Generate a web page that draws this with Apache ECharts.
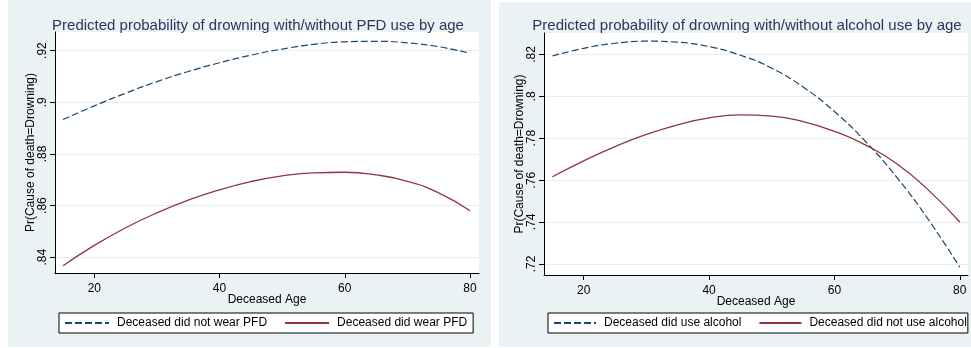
<!DOCTYPE html>
<html>
<head>
<meta charset="utf-8">
<script src="https://cdn.jsdelivr.net/npm/echarts@6/dist/echarts.min.js"></script>
<style>
    body {
        margin: 0;
        background: #fff;
    }
    .panel {
        position: absolute;
    }
</style>
</head>
<body>
<div class="panel" id="pfd_chart" style="left:8px;top:0;width:483px;height:347px"></div>
<div class="panel" id="alc_chart" style="left:499px;top:2px;width:472px;height:345px"></div>
<script>
const ages = [15, 20, 25, 30, 35, 40, 45, 50, 55, 60, 65, 70, 75, 80]
const xTicks = [20, 40, 60, 80]

// left panel: PFD
const pfdNotWorn = [0.8933, 0.8986, 0.9035, 0.9080, 0.9119, 0.9153, 0.9182, 0.9206, 0.9224, 0.9234, 0.9236, 0.9230, 0.9215, 0.9190]
const pfdWorn = [0.8367, 0.8446, 0.8514, 0.8572, 0.8621, 0.8661, 0.8693, 0.8715, 0.8727, 0.8729, 0.8719, 0.8694, 0.8649, 0.8580]
const pfdYTicks = [0.84, 0.86, 0.88, 0.90, 0.92]

// right panel: alcohol
const alcUsed = [0.8192, 0.8229, 0.8253, 0.8263, 0.8258, 0.8237, 0.8196, 0.8134, 0.8044, 0.7927, 0.7783, 0.7611, 0.7411, 0.7184]
const alcNotUsed = [0.7616, 0.7692, 0.7760, 0.7818, 0.7864, 0.7897, 0.7911, 0.7905, 0.7879, 0.7833, 0.7767, 0.7677, 0.7552, 0.7400]
const alcYTicks = [0.72, 0.74, 0.76, 0.78, 0.80, 0.82]

const NAVY = '#1a476f'
const MAROON = '#90353b'
const BG = '#eaf2f3'
const FONT = '"Liberation Sans", Arial, sans-serif'

function pairs(vals) {
    return ages.map((a, i) => [a, vals[i]])
}

function yFmt(v) {
    return v.toFixed(2).replace(/0$/, '').replace(/^0/, '')
}

function initChart(id, cfg) {
    const chart = echarts.init(document.getElementById(id), null, { renderer: 'canvas' })
    const option = {
        backgroundColor: BG,
        animation: false,
        textStyle: { fontFamily: FONT },
        title: {
            text: cfg.title,
            left: cfg.titleX,
            top: cfg.titleTop,
            textAlign: 'center',
            textStyle: { fontSize: 15, fontWeight: 'normal', color: '#233a5e', fontFamily: FONT }
        },
        grid: Object.assign({
            show: true,
            backgroundColor: '#fff',
            borderWidth: 0
        }, cfg.grid),
        legend: {
            left: cfg.legendLeft,
            top: cfg.legendTop,
            orient: 'horizontal',
            itemWidth: cfg.legendItemWidth,
            itemHeight: 14,
            itemGap: 17,
            padding: cfg.legendPadding,
            backgroundColor: '#fff',
            borderColor: '#000',
            borderWidth: 1,
            borderRadius: 0,
            itemStyle: { opacity: 0 }, // line only, no marker dot
            textStyle: { fontSize: 12, color: '#000', fontFamily: FONT, padding: [0, 0, 0, 3] },
            data: cfg.names
        },
        xAxis: {
            type: 'value',
            min: cfg.xMin,
            max: cfg.xMax,
            name: 'Deceased Age',
            nameLocation: 'middle',
            nameGap: 21,
            nameMoveOverlap: false,
            nameTextStyle: { fontSize: 12, color: '#000', fontFamily: FONT },
            axisLine: { show: true, lineStyle: { color: '#000', width: 1 } },
            axisTick: { show: true, length: 5, customValues: xTicks, lineStyle: { color: '#000' } },
            axisLabel: { customValues: xTicks, margin: 10, fontSize: 12, color: '#000', fontFamily: FONT },
            splitLine: { show: false }
        },
        yAxis: {
            type: 'value',
            min: cfg.yMin,
            max: cfg.yMax,
            name: 'Pr(Cause of death=Drowning)',
            nameLocation: 'middle',
            nameGap: 18,
            nameMoveOverlap: false,
            nameTextStyle: { fontSize: 12, color: '#000', fontFamily: FONT },
            axisLine: { show: true, lineStyle: { color: '#000', width: 1 } },
            axisTick: { show: true, length: 5, customValues: cfg.yTicks, lineStyle: { color: '#000' } },
            axisLabel: { customValues: cfg.yTicks, rotate: 90, margin: 6, fontSize: 12, color: '#000', fontFamily: FONT, formatter: yFmt },
            splitLine: { show: true, lineStyle: { color: '#e4eef0', width: 1 } }
        },
        series: [{
            name: cfg.names[0],
            type: 'line',
            data: pairs(cfg.dashed),
            symbol: 'none',
            smooth: 0.5,
            lineStyle: { color: NAVY, width: 1.2, type: [7, 3] },
            itemStyle: { color: NAVY }
        }, {
            name: cfg.names[1],
            type: 'line',
            data: pairs(cfg.solid),
            symbol: 'none',
            smooth: 0.5,
            lineStyle: { color: MAROON, width: 1.3 },
            itemStyle: { color: MAROON }
        }]
    }
    chart.setOption(option)
    return chart
}

initChart('pfd_chart', {
    title: 'Predicted probability of drowning with/without PFD use by age',
    titleX: 245,
    titleTop: 13,
    grid: { left: 47, right: 12, top: 32, bottom: 74 },
    xMin: 13.72, xMax: 81.44,
    yMin: 0.8339, yMax: 0.9272,
    yTicks: pfdYTicks,
    names: ['Deceased did not wear PFD', 'Deceased did wear PFD'],
    dashed: pfdNotWorn,
    solid: pfdWorn,
    legendLeft: 51,
    legendTop: 313,
    legendItemWidth: 44,
    legendPadding: [4, 6, 4, 5]
})

initChart('alc_chart', {
    title: 'Predicted probability of drowning with/without alcohol use by age',
    titleX: 243,
    titleTop: 11,
    grid: { left: 45, right: 3, top: 31, bottom: 72 },
    xMin: 13.66, xMax: 81.31,
    yMin: 0.7147, yMax: 0.8302,
    yTicks: alcYTicks,
    names: ['Deceased did use alcohol', 'Deceased did not use alcohol'],
    dashed: alcUsed,
    solid: alcNotUsed,
    legendLeft: 49,
    legendTop: 311,
    legendItemWidth: 42,
    legendPadding: [4, 1, 4, 5]
})
</script>
</body>
</html>
